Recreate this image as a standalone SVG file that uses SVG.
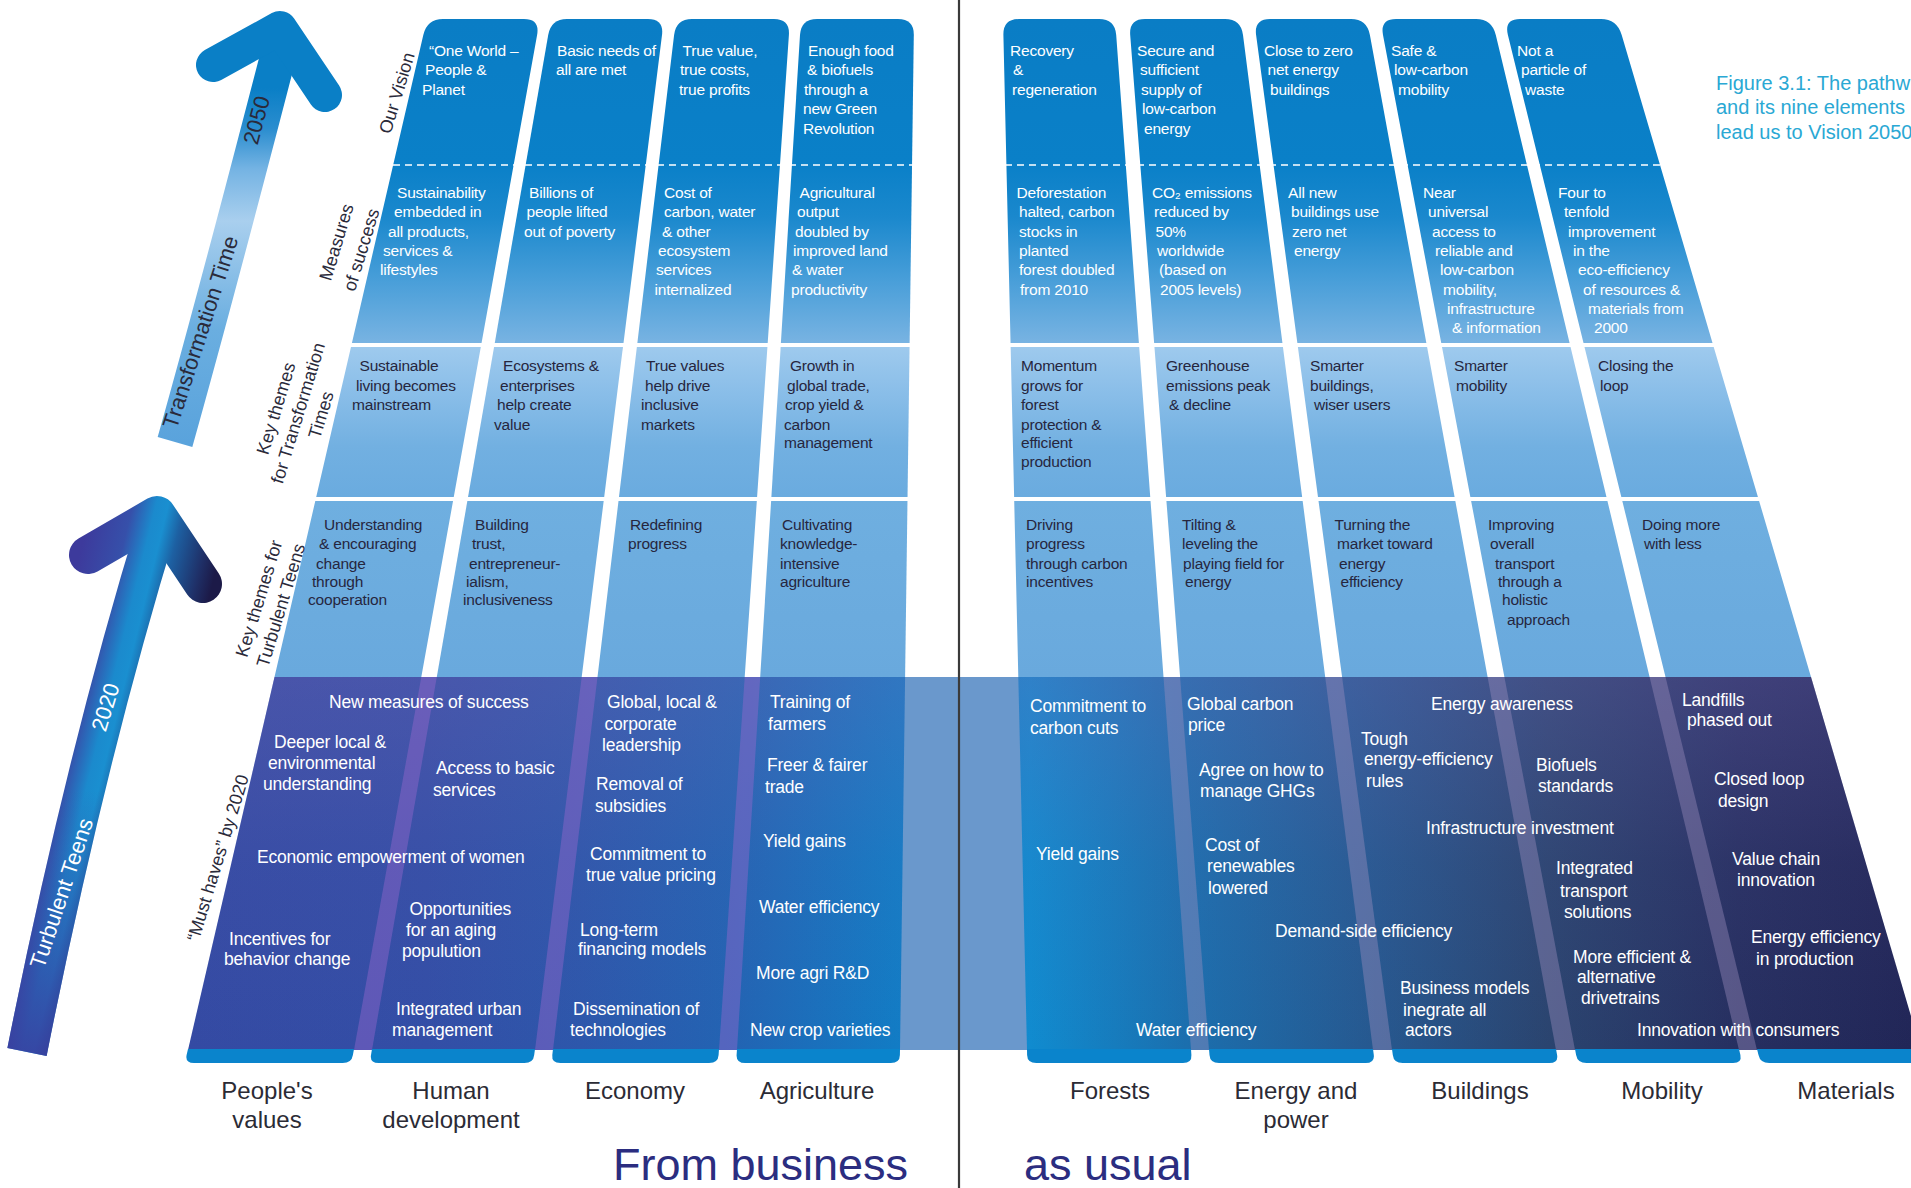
<svg xmlns="http://www.w3.org/2000/svg" width="1911" height="1188" viewBox="0 0 1911 1188">
<defs>
<linearGradient id="colG" gradientUnits="userSpaceOnUse" x1="0" y1="19" x2="0" y2="677">
<stop offset="0" stop-color="#0a7dc5"/><stop offset="0.22" stop-color="#0a80c8"/><stop offset="0.30" stop-color="#1a88cd"/><stop offset="0.40" stop-color="#4a9fd9"/><stop offset="0.492" stop-color="#78b3e2"/><stop offset="0.4925" stop-color="#a0cbee"/><stop offset="0.56" stop-color="#8cbfe9"/><stop offset="0.65" stop-color="#72b0e1"/><stop offset="0.726" stop-color="#6aabdf"/><stop offset="0.727" stop-color="#6fafe0"/><stop offset="1" stop-color="#69a9dd"/>
</linearGradient>
<linearGradient id="bandH" gradientUnits="userSpaceOnUse" x1="185" y1="0" x2="1911" y2="0">
<stop offset="0" stop-color="#344aa3"/><stop offset="0.14" stop-color="#334ea6"/><stop offset="0.23" stop-color="#2d57ab"/><stop offset="0.32" stop-color="#2264b3"/><stop offset="0.41" stop-color="#127bc4"/><stop offset="0.49" stop-color="#108bcf"/><stop offset="0.58" stop-color="#1b6fae"/><stop offset="0.69" stop-color="#26588f"/><stop offset="0.79" stop-color="#2a446f"/><stop offset="0.9" stop-color="#262f60"/><stop offset="1" stop-color="#212657"/>
</linearGradient>
<linearGradient id="bandV" gradientUnits="userSpaceOnUse" x1="0" y1="677" x2="0" y2="1050">
<stop offset="0" stop-color="#7a6ab8" stop-opacity="0.3"/><stop offset="0.5" stop-color="#7a6ab8" stop-opacity="0.08"/><stop offset="1" stop-color="#7a6ab8" stop-opacity="0"/>
</linearGradient>
<linearGradient id="ar1" gradientUnits="userSpaceOnUse" x1="0" y1="442" x2="0" y2="40">
<stop offset="0" stop-color="#5aa3dc"/><stop offset="0.28" stop-color="#6aaee0"/><stop offset="0.55" stop-color="#a9cfee"/><stop offset="0.68" stop-color="#74b3e3"/><stop offset="0.78" stop-color="#2a8dcf"/><stop offset="0.88" stop-color="#0a7fc6"/><stop offset="1" stop-color="#0a7fc6"/>
</linearGradient>
<linearGradient id="ar2" gradientUnits="userSpaceOnUse" x1="194.2" y1="47.8" x2="349.6" y2="86">
<stop offset="0.06" stop-color="#3d3a9c"/><stop offset="0.31" stop-color="#3650aa"/><stop offset="0.45" stop-color="#1b8acd"/><stop offset="0.525" stop-color="#1a8fd0"/><stop offset="0.625" stop-color="#1d60a2"/><stop offset="0.81" stop-color="#1f3068"/><stop offset="0.91" stop-color="#1c1a48"/>
</linearGradient>
<linearGradient id="ar2v" gradientUnits="userSpaceOnUse" x1="0" y1="1055" x2="0" y2="790">
<stop offset="0" stop-color="#3b3a9c" stop-opacity="0.85"/><stop offset="1" stop-color="#3b3a9c" stop-opacity="0"/>
</linearGradient>
</defs>
<style>
.col{fill:url(#colG)}
.tab{fill:#0a84cc}
.gapL{fill:#9a6ad0;opacity:0.42}
.gapR{fill:#a090c0;opacity:0.4}
text{font-family:"Liberation Sans",Arial,sans-serif}
.r{font-size:15.5px;letter-spacing:-0.2px}
.w{fill:#ffffff}
.d{fill:#26263e}
.b{font-size:17.5px;fill:#ffffff;letter-spacing:-0.2px}
.lab{font-size:18px;fill:#2a2a3a;text-anchor:middle}
.bot{font-size:24px;fill:#2b2b35;text-anchor:middle}
.big{font-size:45px;fill:#2b2d80}
.cap{font-size:20px;fill:#2aa8d4}
.at{font-size:22px;text-anchor:middle}
</style>
<rect width="1911" height="1188" fill="#ffffff"/>

<g id="band">
<polygon points="274.5,677 1811,677 1921,1050 188,1050" fill="url(#bandH)"/>
<polygon points="274.5,677 1811,677 1921,1050 188,1050" fill="url(#bandV)"/>
<polygon class="gapL" points="421.3,677 436.8,677 372,1050 354,1050"/>
<polygon class="gapL" points="581.7,677 597.5,677 553,1050 535,1050"/>
<polygon class="gapL" points="744.7,677 760.2,677 737,1050 719,1050"/>
<polygon points="905.1,677 1018.3,677 1027,1050 900,1050" fill="#6a98cc"/>
<polygon class="gapR" points="1163.5,677 1180.1,677 1209,1050 1191,1050"/>
<polygon class="gapR" points="1325.2,677 1342.1,677 1392,1050 1373,1050"/>
<polygon class="gapR" points="1487.6,677 1504.4,677 1575,1050 1556,1050"/>
<polygon class="gapR" points="1649.6,677 1665.5,677 1757,1050 1739,1050"/>
</g>

<g id="col-peoples-values">
<path class="col" d="M423.3,35 Q427,19 443,19 L524,19 Q540,19 537.1,35 L421.3,677 L274.5,677 Z"/>
<path class="tab" d="M188,1049 L354,1049 L352.9,1055 Q351.7,1063 342.7,1063 L194,1063 Q185,1063 186.6,1055 Z"/>
<text class="r w"><tspan x="429" y="55.5">“One World –</tspan><tspan x="425" y="75">People &amp;</tspan><tspan x="422" y="94.5">Planet</tspan></text>
<text class="r w"><tspan x="397" y="198">Sustainability</tspan><tspan x="394" y="217.3">embedded in</tspan><tspan x="388" y="236.6">all products,</tspan><tspan x="383" y="255.9">services &amp;</tspan><tspan x="380" y="275.2">lifestyles</tspan></text>
<text class="r d"><tspan x="359.5" y="371">Sustainable</tspan><tspan x="356" y="390.5">living becomes</tspan><tspan x="352" y="410">mainstream</tspan></text>
<text class="r d"><tspan x="324" y="529.5">Understanding</tspan><tspan x="319" y="549">&amp; encouraging</tspan><tspan x="316" y="568.5">change</tspan><tspan x="312" y="587">through</tspan><tspan x="308" y="605">cooperation</tspan></text>
<text class="b"><tspan x="329" y="708">New measures of success</tspan></text>
<text class="b"><tspan x="274" y="748">Deeper local &amp;</tspan><tspan x="268" y="769">environmental</tspan><tspan x="263" y="790">understanding</tspan></text>
<text class="b"><tspan x="257" y="863">Economic empowerment of women</tspan></text>
<text class="b"><tspan x="229" y="944.5">Incentives for</tspan><tspan x="224" y="965">behavior change</tspan></text>
<text class="bot"><tspan x="267" y="1099">People's</tspan><tspan x="267" y="1128">values</tspan></text>
</g>

<g id="col-human-development">
<path class="col" d="M548.2,35 Q551,19 567,19 L648,19 Q664,19 662,35 L581.7,677 L436.8,677 Z"/>
<path class="tab" d="M372,1049 L535,1049 L534.2,1055 Q533.4,1063 524.4,1063 L378.7,1063 Q369.7,1063 371,1055 Z"/>
<text class="r w"><tspan x="557" y="55.5">Basic needs of</tspan><tspan x="556" y="75">all are met</tspan></text>
<text class="r w"><tspan x="529" y="198">Billions of</tspan><tspan x="526.5" y="217.3">people lifted</tspan><tspan x="524" y="236.6">out of poverty</tspan></text>
<text class="r d"><tspan x="503" y="371">Ecosystems &amp;</tspan><tspan x="500" y="390.5">enterprises</tspan><tspan x="497" y="410">help create</tspan><tspan x="494" y="429.5">value</tspan></text>
<text class="r d"><tspan x="475" y="529.5">Building</tspan><tspan x="472" y="549">trust,</tspan><tspan x="469" y="568.5">entrepreneur-</tspan><tspan x="466" y="587">ialism,</tspan><tspan x="463" y="605">inclusiveness</tspan></text>
<text class="b"><tspan x="436" y="774">Access to basic</tspan><tspan x="433" y="796">services</tspan></text>
<text class="b"><tspan x="409.5" y="915">Opportunities</tspan><tspan x="406" y="936">for an aging</tspan><tspan x="402" y="957">populution</tspan></text>
<text class="b"><tspan x="396" y="1015">Integrated urban</tspan><tspan x="392" y="1036">management</tspan></text>
<text class="bot"><tspan x="451" y="1099">Human</tspan><tspan x="451" y="1128">development</tspan></text>
</g>

<g id="col-economy">
<path class="col" d="M674.1,35 Q676,19 692,19 L774,19 Q790,19 788.9,35 L744.7,677 L597.5,677 Z"/>
<path class="tab" d="M553,1049 L719,1049 L718.6,1055 Q718.1,1063 709.1,1063 L560.4,1063 Q551.4,1063 552.3,1055 Z"/>
<text class="r w"><tspan x="682.5" y="55.5">True value,</tspan><tspan x="680" y="75">true costs,</tspan><tspan x="679" y="94.5">true profits</tspan></text>
<text class="r w"><tspan x="664" y="198">Cost of</tspan><tspan x="664" y="217.3">carbon, water</tspan><tspan x="662" y="236.6">&amp; other</tspan><tspan x="658" y="255.9">ecosystem</tspan><tspan x="656" y="275.2">services</tspan><tspan x="654.5" y="294.5">internalized</tspan></text>
<text class="r d"><tspan x="646" y="371">True values</tspan><tspan x="645" y="390.5">help drive</tspan><tspan x="641" y="410">inclusive</tspan><tspan x="641" y="429.5">markets</tspan></text>
<text class="r d"><tspan x="630" y="529.5">Redefining</tspan><tspan x="628" y="549">progress</tspan></text>
<text class="b"><tspan x="607" y="708">Global, local &amp;</tspan><tspan x="604.5" y="730">corporate</tspan><tspan x="602" y="751">leadership</tspan></text>
<text class="b"><tspan x="596" y="790">Removal of</tspan><tspan x="595" y="812">subsidies</tspan></text>
<text class="b"><tspan x="590" y="860">Commitment to</tspan><tspan x="586" y="881">true value pricing</tspan></text>
<text class="b"><tspan x="580" y="936">Long-term</tspan><tspan x="578" y="955">financing models</tspan></text>
<text class="b"><tspan x="573" y="1015">Dissemination of</tspan><tspan x="570" y="1036">technologies</tspan></text>
<text class="bot"><tspan x="635" y="1099">Economy</tspan></text>
</g>

<g id="col-agriculture">
<path class="col" d="M800,35 Q801,19 817,19 L898,19 Q914,19 913.8,35 L905.1,677 L760.2,677 Z"/>
<path class="tab" d="M737,1049 L900,1049 L899.9,1055 Q899.8,1063 890.8,1063 L745.2,1063 Q736.2,1063 736.6,1055 Z"/>
<text class="r w"><tspan x="808" y="55.5">Enough food</tspan><tspan x="807" y="75">&amp; biofuels</tspan><tspan x="804" y="94.5">through a</tspan><tspan x="803" y="114">new Green</tspan><tspan x="803" y="133.5">Revolution</tspan></text>
<text class="r w"><tspan x="799.5" y="198">Agricultural</tspan><tspan x="797" y="217.3">output</tspan><tspan x="795" y="236.6">doubled by</tspan><tspan x="793" y="255.9">improved land</tspan><tspan x="792" y="275.2">&amp; water</tspan><tspan x="791" y="294.5">productivity</tspan></text>
<text class="r d"><tspan x="790" y="371">Growth in</tspan><tspan x="787" y="390.5">global trade,</tspan><tspan x="785" y="410">crop yield &amp;</tspan><tspan x="784" y="429.5">carbon</tspan><tspan x="784" y="448">management</tspan></text>
<text class="r d"><tspan x="782" y="529.5">Cultivating</tspan><tspan x="780" y="549">knowledge-</tspan><tspan x="780" y="568.5">intensive</tspan><tspan x="780" y="587">agriculture</tspan></text>
<text class="b"><tspan x="770" y="708">Training of</tspan><tspan x="768" y="730">farmers</tspan></text>
<text class="b"><tspan x="767" y="771">Freer &amp; fairer</tspan><tspan x="765" y="793">trade</tspan></text>
<text class="b"><tspan x="763" y="847">Yield gains</tspan></text>
<text class="b"><tspan x="759" y="913">Water efficiency</tspan></text>
<text class="b"><tspan x="756" y="979">More agri R&amp;D</tspan></text>
<text class="b"><tspan x="750" y="1036">New crop varieties</tspan></text>
<text class="bot"><tspan x="817" y="1099">Agriculture</tspan></text>
</g>

<g id="col-forests">
<path class="col" d="M1003.4,35 Q1003,19 1019,19 L1099,19 Q1115,19 1116.2,35 L1163.5,677 L1018.3,677 Z"/>
<path class="tab" d="M1027,1049 L1191,1049 L1191.4,1055 Q1192,1063 1183,1063 L1036.3,1063 Q1027.3,1063 1027.1,1055 Z"/>
<text class="r w"><tspan x="1010" y="55.5">Recovery</tspan><tspan x="1013" y="75">&amp;</tspan><tspan x="1012" y="94.5">regeneration</tspan></text>
<text class="r w"><tspan x="1016.5" y="198">Deforestation</tspan><tspan x="1019" y="217.3">halted, carbon</tspan><tspan x="1019" y="236.6">stocks in</tspan><tspan x="1019" y="255.9">planted</tspan><tspan x="1019" y="275.2">forest doubled</tspan><tspan x="1020" y="294.5">from 2010</tspan></text>
<text class="r d"><tspan x="1021" y="371">Momentum</tspan><tspan x="1021" y="390.5">grows for</tspan><tspan x="1021" y="410">forest</tspan><tspan x="1021" y="429.5">protection &amp;</tspan><tspan x="1021" y="448">efficient</tspan><tspan x="1021" y="466.5">production</tspan></text>
<text class="r d"><tspan x="1026" y="529.5">Driving</tspan><tspan x="1026" y="549">progress</tspan><tspan x="1026" y="568.5">through carbon</tspan><tspan x="1026" y="587">incentives</tspan></text>
<text class="b"><tspan x="1030" y="712">Commitment to</tspan><tspan x="1030" y="734">carbon cuts</tspan></text>
<text class="b"><tspan x="1036" y="860">Yield gains</tspan></text>
<text class="b"><tspan x="1136" y="1036">Water efficiency</tspan></text>
<text class="bot"><tspan x="1110" y="1099">Forests</tspan></text>
</g>

<g id="col-energy-power">
<path class="col" d="M1130.2,35 Q1129,19 1145,19 L1225,19 Q1241,19 1243,35 L1325.2,677 L1180.1,677 Z"/>
<path class="tab" d="M1209,1049 L1373,1049 L1373.8,1055 Q1374.7,1063 1365.7,1063 L1219,1063 Q1210,1063 1209.5,1055 Z"/>
<text class="r w"><tspan x="1137" y="55.5">Secure and</tspan><tspan x="1140" y="75">sufficient</tspan><tspan x="1141" y="94.5">supply of</tspan><tspan x="1142" y="114">low-carbon</tspan><tspan x="1144" y="133.5">energy</tspan></text>
<text class="r w"><tspan x="1152" y="198">CO₂ emissions</tspan><tspan x="1154" y="217.3">reduced by</tspan><tspan x="1155.5" y="236.6">50%</tspan><tspan x="1157" y="255.9">worldwide</tspan><tspan x="1159" y="275.2">(based on</tspan><tspan x="1160" y="294.5">2005 levels)</tspan></text>
<text class="r d"><tspan x="1166" y="371">Greenhouse</tspan><tspan x="1166" y="390.5">emissions peak</tspan><tspan x="1169" y="410">&amp; decline</tspan></text>
<text class="r d"><tspan x="1182" y="529.5">Tilting &amp;</tspan><tspan x="1182" y="549">leveling the</tspan><tspan x="1183" y="568.5">playing field for</tspan><tspan x="1185" y="587">energy</tspan></text>
<text class="b"><tspan x="1187" y="710">Global carbon</tspan><tspan x="1188" y="731">price</tspan></text>
<text class="b"><tspan x="1199" y="776">Agree on how to</tspan><tspan x="1200" y="797">manage GHGs</tspan></text>
<text class="b"><tspan x="1205" y="851">Cost of</tspan><tspan x="1207" y="872">renewables</tspan><tspan x="1208" y="894">lowered</tspan></text>
<text class="b"><tspan x="1275" y="937">Demand-side efficiency</tspan></text>
<text class="bot"><tspan x="1296" y="1099">Energy and</tspan><tspan x="1296" y="1128">power</tspan></text>
</g>

<g id="col-buildings">
<path class="col" d="M1256.1,35 Q1254,19 1270,19 L1351,19 Q1367,19 1369.9,35 L1487.6,677 L1342.1,677 Z"/>
<path class="tab" d="M1392,1049 L1556,1049 L1557.1,1055 Q1558.4,1063 1549.4,1063 L1402.7,1063 Q1393.7,1063 1392.8,1055 Z"/>
<text class="r w"><tspan x="1264" y="55.5">Close to zero</tspan><tspan x="1267.5" y="75">net energy</tspan><tspan x="1270" y="94.5">buildings</tspan></text>
<text class="r w"><tspan x="1288" y="198">All new</tspan><tspan x="1291" y="217.3">buildings use</tspan><tspan x="1292" y="236.6">zero net</tspan><tspan x="1294" y="255.9">energy</tspan></text>
<text class="r d"><tspan x="1310" y="371">Smarter</tspan><tspan x="1310" y="390.5">buildings,</tspan><tspan x="1314" y="410">wiser users</tspan></text>
<text class="r d"><tspan x="1334.5" y="529.5">Turning the</tspan><tspan x="1337" y="549">market toward</tspan><tspan x="1339" y="568.5">energy</tspan><tspan x="1340.5" y="587">efficiency</tspan></text>
<text class="b"><tspan x="1431" y="710">Energy awareness</tspan></text>
<text class="b"><tspan x="1361" y="745">Tough</tspan><tspan x="1364" y="765">energy-efficiency</tspan><tspan x="1366" y="787">rules</tspan></text>
<text class="b"><tspan x="1426" y="833.5">Infrastructure investment</tspan></text>
<text class="b"><tspan x="1400" y="994">Business models</tspan><tspan x="1403" y="1016">inegrate all</tspan><tspan x="1405" y="1036">actors</tspan></text>
<text class="bot"><tspan x="1480" y="1099">Buildings</tspan></text>
</g>

<g id="col-mobility">
<path class="col" d="M1383,35 Q1380,19 1396,19 L1476,19 Q1492,19 1495.8,35 L1649.6,677 L1504.4,677 Z"/>
<path class="tab" d="M1575,1049 L1739,1049 L1740.4,1055 Q1742.1,1063 1733.1,1063 L1586.5,1063 Q1577.5,1063 1576.1,1055 Z"/>
<text class="r w"><tspan x="1391" y="55.5">Safe &amp;</tspan><tspan x="1394" y="75">low-carbon</tspan><tspan x="1398" y="94.5">mobility</tspan></text>
<text class="r w"><tspan x="1423" y="198">Near</tspan><tspan x="1428" y="217.3">universal</tspan><tspan x="1432" y="236.6">access to</tspan><tspan x="1435" y="255.9">reliable and</tspan><tspan x="1440" y="275.2">low-carbon</tspan><tspan x="1443" y="294.5">mobility,</tspan><tspan x="1447" y="313.8">infrastructure</tspan><tspan x="1452" y="333.1">&amp; information</tspan></text>
<text class="r d"><tspan x="1454" y="371">Smarter</tspan><tspan x="1456" y="390.5">mobility</tspan></text>
<text class="r d"><tspan x="1488" y="529.5">Improving</tspan><tspan x="1490" y="549">overall</tspan><tspan x="1495" y="568.5">transport</tspan><tspan x="1498" y="587">through a</tspan><tspan x="1502" y="605">holistic</tspan><tspan x="1507" y="624.5">approach</tspan></text>
<text class="b"><tspan x="1536" y="771">Biofuels</tspan><tspan x="1538" y="792">standards</tspan></text>
<text class="b"><tspan x="1556" y="874">Integrated</tspan><tspan x="1560" y="897">transport</tspan><tspan x="1564" y="918">solutions</tspan></text>
<text class="b"><tspan x="1573" y="963">More efficient &amp;</tspan><tspan x="1577" y="983">alternative</tspan><tspan x="1581" y="1004">drivetrains</tspan></text>
<text class="b"><tspan x="1637" y="1036">Innovation with consumers</tspan></text>
<text class="bot"><tspan x="1662" y="1099">Mobility</tspan></text>
</g>

<g id="col-materials">
<path class="col" d="M1507.9,35 Q1504,19 1520,19 L1601,19 Q1617,19 1621.7,35 L1811,677 L1665.5,677 Z"/>
<path class="tab" d="M1757,1049 L1921,1049 L1922.8,1055 Q1924.8,1063 1915.8,1063 L1769.2,1063 Q1760.2,1063 1758.5,1055 Z"/>
<text class="r w"><tspan x="1517" y="55.5">Not a</tspan><tspan x="1521" y="75">particle of</tspan><tspan x="1525" y="94.5">waste</tspan></text>
<text class="r w"><tspan x="1558" y="198">Four to</tspan><tspan x="1564" y="217.3">tenfold</tspan><tspan x="1568" y="236.6">improvement</tspan><tspan x="1573" y="255.9">in the</tspan><tspan x="1578" y="275.2">eco-efficiency</tspan><tspan x="1583" y="294.5">of resources &amp;</tspan><tspan x="1588" y="313.8">materials from</tspan><tspan x="1594" y="333.1">2000</tspan></text>
<text class="r d"><tspan x="1598" y="371">Closing the</tspan><tspan x="1600" y="390.5">loop</tspan></text>
<text class="r d"><tspan x="1642" y="529.5">Doing more</tspan><tspan x="1644" y="549">with less</tspan></text>
<text class="b"><tspan x="1682" y="706">Landfills</tspan><tspan x="1687" y="726">phased out</tspan></text>
<text class="b"><tspan x="1714" y="785">Closed loop</tspan><tspan x="1718" y="807">design</tspan></text>
<text class="b"><tspan x="1732" y="865">Value chain</tspan><tspan x="1737" y="886">innovation</tspan></text>
<text class="b"><tspan x="1751" y="943">Energy efficiency</tspan><tspan x="1756" y="965">in production</tspan></text>
<text class="bot"><tspan x="1846" y="1099">Materials</tspan></text>
</g>

<g id="row-separators">
<rect x="351" y="343" width="1363" height="4" fill="#ffffff"/>
<rect x="315" y="497" width="1445" height="4" fill="#ffffff"/>
<line x1="393" y1="165" x2="1660" y2="165" stroke="#ffffff" stroke-width="1.6" stroke-dasharray="7 5"/>
</g>

<g id="row-labels">
<text class="lab" transform="translate(397,93) rotate(-73)"><tspan x="0" y="6">Our Vision</tspan></text>
<text class="lab" transform="translate(349,246) rotate(-73)"><tspan x="0" y="-7">Measures</tspan><tspan x="0" y="19">of success</tspan></text>
<text class="lab" transform="translate(298,412) rotate(-73)"><tspan x="-3" y="-16">Key themes</tspan><tspan x="-1" y="6.5">for Transformation</tspan><tspan x="4" y="29">Times</tspan></text>
<text class="lab" transform="translate(270,602) rotate(-73)"><tspan x="0" y="-5.5">Key themes for</tspan><tspan x="0" y="17.5">Turbulent Teens</tspan></text>
<text class="lab" transform="translate(218,858) rotate(-73)"><tspan x="0" y="6">“Must haves” by 2020</tspan></text>
</g>

<g id="connectors">
<g id="arrow-transformation-time">
<path d="M175,442 Q215,300 281,45" fill="none" stroke="url(#ar1)" stroke-width="36"/>
<polyline points="213,65 280,28 325,95" fill="none" stroke="#0a7fc6" stroke-width="34" stroke-linecap="round" stroke-linejoin="round"/>
<text class="at" fill="#2a2a3a" transform="translate(200,332) rotate(-72)"><tspan x="0" y="8">Transformation Time</tspan></text>
<text class="at" fill="#2a2a3a" transform="translate(256,120) rotate(-75)"><tspan x="0" y="8">2050</tspan></text>
</g>
<g id="arrow-turbulent-teens">
<path d="M27,1052 Q85,760 158,522" fill="none" stroke="url(#ar2)" stroke-width="40"/>
<path d="M27,1052 Q85,760 158,522" fill="none" stroke="url(#ar2v)" stroke-width="40"/>
<polyline points="88,555 157,515 203,584" fill="none" stroke="url(#ar2)" stroke-width="38" stroke-linecap="round" stroke-linejoin="round"/>
<text class="at" fill="#ffffff" transform="translate(61,893) rotate(-71.5)"><tspan x="0" y="8">Turbulent Teens</tspan></text>
<text class="at" fill="#ffffff" transform="translate(105,707) rotate(-73)"><tspan x="0" y="8">2020</tspan></text>
</g>
</g>

<line id="divider" x1="959" y1="0" x2="959" y2="1188" stroke="#3a3a3a" stroke-width="2.2"/>

<g id="titles">
<text class="big" x="908" y="1180" text-anchor="end">From business</text>
<text class="big" x="1024" y="1180">as usual</text>
<text class="cap"><tspan x="1716" y="90">Figure 3.1: The pathw</tspan><tspan x="1716" y="114">and its nine elements</tspan><tspan x="1716" y="139">lead us to Vision 2050</tspan></text>
</g>
</svg>
